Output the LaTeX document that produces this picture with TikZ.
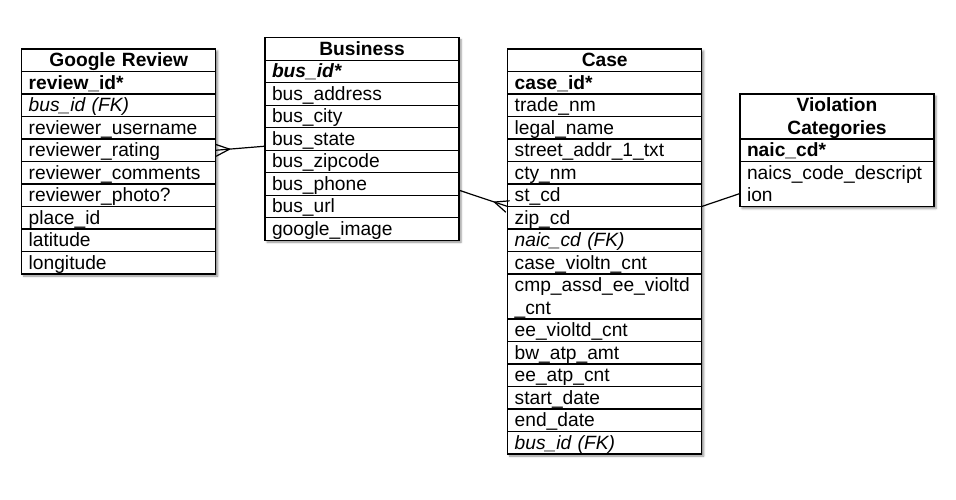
\documentclass[tikz,border=0pt]{standalone}
\usepackage{fontspec}
\setmainfont{Liberation Sans}
\usepackage{tikz}
\usetikzlibrary{positioning}
\usetikzlibrary{fit}
\usetikzlibrary{calc}
\usetikzlibrary{backgrounds}
\usetikzlibrary{shadows.blur}
\newcommand{\erfont}{\fontsize{19.2}{22.5}\selectfont}
\tikzstyle{attr} = [rectangle, draw=black, fill=white, line width=1.3pt,
minimum height=22.5pt, text width=180pt, inner xsep=7pt, inner ysep=0pt,
outer sep=0pt, text height=17pt, text depth=4pt, align=left, font=\erfont]
\tikzstyle{head} = [attr, align=center, font=\erfont\bfseries]
\tikzstyle{pk} = [font=\erfont\bfseries]
\tikzstyle{fk} = [font=\erfont\itshape]
\tikzstyle{pkfk} = [font=\erfont\bfseries\itshape]
\tikzstyle{tworow} = [minimum height=45pt, text depth=26.5pt]
\tikzstyle{rel} = [draw=black, line width=1.2pt]
\tikzstyle{tblshadow} = [rectangle, fill=white, inner sep=0pt,
blur shadow={shadow xshift=2pt, shadow yshift=-2pt, shadow blur radius=2pt,
shadow opacity=45}]
\newcommand{\entity}[4][]{ %
  % Title row of a table, placed by its top left corner.
  \node[head, anchor=north west, #1] (#2) at (#3) {#4} ; %
}
\newcommand{\attr}[4][]{ %
  % One attribute row, hung just below the row #3.
  \node[attr, below=0pt of #3, #1] (#2) {#4} ; %
}
\newcommand{\manyedge}[2]{ %
  % Connect #1 to #2 with a crow's foot at #2.
  \draw[rel] (#1) -- (#2) ; %
  \foreach \a in {90,-90} { %
    \draw[rel] ($(#2)!14pt!(#1)$) -- ($(#2)!6pt!\a:(#1)$) ; %
  } ;
}
\begin{document}
\begin{tikzpicture}[x=1pt,y=-1pt]

	\useasboundingbox (0,0) rectangle (956,499);

	% Google Review
	\entity{gr}{21.7,49}{Google Review}
	\attr[pk]{gr-id}{gr}{review\_id*}
	\attr[fk]{gr-bus}{gr-id}{bus\_id (FK)}
	\attr{gr-user}{gr-bus}{reviewer\_username}
	\attr{gr-rating}{gr-user}{reviewer\_rating}
	\attr{gr-comments}{gr-rating}{reviewer\_comments}
	\attr{gr-photo}{gr-comments}{reviewer\_photo?}
	\attr{gr-place}{gr-photo}{place\_id}
	\attr{gr-lat}{gr-place}{latitude}
	\attr{gr-long}{gr-lat}{longitude}

	% Business
	\entity{bs}{265,37.7}{Business}
	\attr[pkfk]{bs-id}{bs}{bus\_id*}
	\attr{bs-address}{bs-id}{bus\_address}
	\attr{bs-city}{bs-address}{bus\_city}
	\attr{bs-state}{bs-city}{bus\_state}
	\attr{bs-zip}{bs-state}{bus\_zipcode}
	\attr{bs-phone}{bs-zip}{bus\_phone}
	\attr{bs-url}{bs-phone}{bus\_url}
	\attr{bs-image}{bs-url}{google\_image}

	% Case
	\entity{cs}{507.7,49}{Case}
	\attr[pk]{cs-id}{cs}{case\_id*}
	\attr{cs-trade}{cs-id}{trade\_nm}
	\attr{cs-legal}{cs-trade}{legal\_name}
	\attr{cs-street}{cs-legal}{street\_addr\_1\_txt}
	\attr{cs-city}{cs-street}{cty\_nm}
	\attr{cs-st}{cs-city}{st\_cd}
	\attr{cs-zip}{cs-st}{zip\_cd}
	\attr[fk]{cs-naic}{cs-zip}{naic\_cd (FK)}
	\attr{cs-cnt}{cs-naic}{case\_violtn\_cnt}
	\attr[tworow]{cs-cmp}{cs-cnt}{cmp\_assd\_ee\_violtd\\\_cnt}
	\attr{cs-ee}{cs-cmp}{ee\_violtd\_cnt}
	\attr{cs-bw}{cs-ee}{bw\_atp\_amt}
	\attr{cs-atp}{cs-bw}{ee\_atp\_cnt}
	\attr{cs-start}{cs-atp}{start\_date}
	\attr{cs-end}{cs-start}{end\_date}
	\attr[fk]{cs-bus}{cs-end}{bus\_id (FK)}

	% Violation Categories
	\entity[tworow]{vc}{740,94}{Violation\\Categories}
	\attr[pk]{vc-id}{vc}{naic\_cd*}
	\attr[tworow]{vc-desc}{vc-id}{naics\_code\_descript\\ion}

	\begin{scope}[on background layer]
	  \node[tblshadow, fit=(gr)(gr-long)] {};
	  \node[tblshadow, fit=(bs)(bs-image)] {};
	  \node[tblshadow, fit=(cs)(cs-bus)] {};
	  \node[tblshadow, fit=(vc)(vc-desc)] {};
	\end{scope}

	\coordinate (bs-in) at ([yshift=4pt]bs-state.south west);
	\coordinate (bs-out) at ([yshift=5pt]bs-phone.south east);
	\coordinate (vc-in) at ([yshift=13pt]vc-desc.south west);

	\manyedge{bs-in}{gr-rating.east};
	\manyedge{bs-out}{cs-st.south west};
	\draw[rel] (cs-st.south east) -- (vc-in);

\end{tikzpicture}
\end{document}
